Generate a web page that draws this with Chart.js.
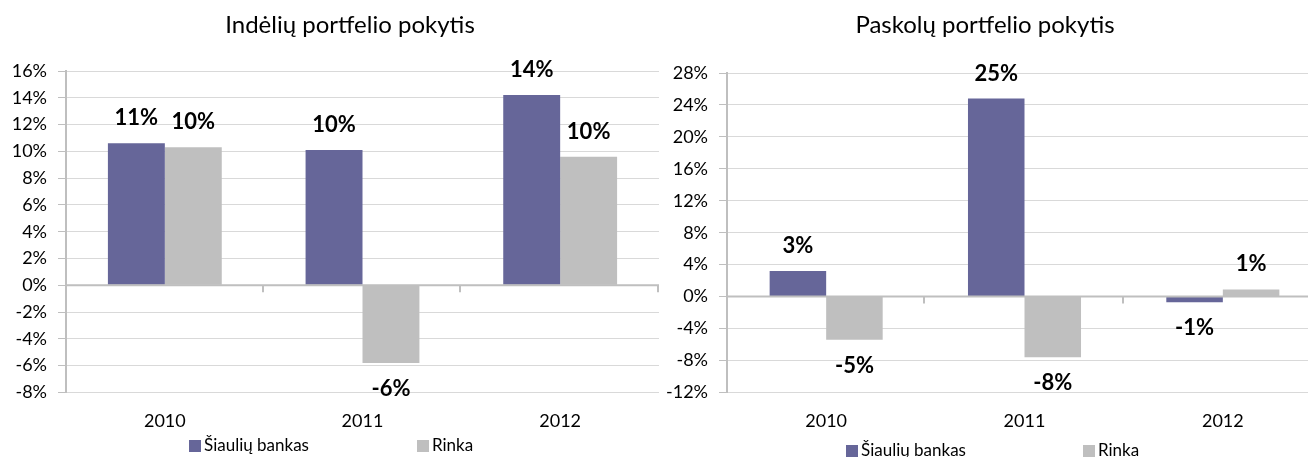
<!DOCTYPE html>
<html>
<head>
<meta charset="utf-8">
<script src="https://cdn.jsdelivr.net/npm/chart.js@4"></script>
<style>
  body { margin: 0; width: 1308px; height: 457px; overflow: hidden; background: #fff; position: relative; font-family: Lato, sans-serif; }
  #c1 { position: absolute; left: 0; top: 0; }
  #c2 { position: absolute; left: 655px; top: 0; }
  .leg { position: absolute; font-size: 17px; line-height: 20px; color: #000; white-space: nowrap; }
  .leg span { display: inline-block; width: 12px; height: 12px; margin-right: 3px; vertical-align: -1px; }
</style>
</head>
<body>
<canvas id="c1" width="662" height="457"></canvas>
<canvas id="c2" width="670" height="457"></canvas>
<div class="leg" style="left:189px; top:435px"><span style="background:#666699"></span>Šiaulių bankas</div>
<div class="leg" style="left:417px; top:435px"><span style="background:#bfbfbf"></span>Rinka</div>
<div class="leg" style="left:846px; top:440px"><span style="background:#666699"></span>Šiaulių bankas</div>
<div class="leg" style="left:1083px; top:440px"><span style="background:#bfbfbf"></span>Rinka</div>
<script>
// metai
const years = ["2010", "2011", "2012"];
const seriesNames = ["Šiaulių bankas", "Rinka"];

// indeliu portfelio pokytis (%)
const depositBank = [10.6, 10.1, 14.2];
const depositMarket = [10.3, -5.8, 9.6];

// paskolu portfelio pokytis (%)
const loanBank = [3.2, 24.8, -0.7];
const loanMarket = [-5.4, -7.6, 0.9];

const bankColor = "#666699";
const marketColor = "#bfbfbf";

// chart title, placed off-centre like the original
const chartTitle = {
  id: "chartTitle",
  afterDraw(chart, args, opts) {
    const ctx = chart.ctx;
    ctx.save();
    ctx.font = "24px Lato";
    ctx.fillStyle = "#000";
    ctx.textAlign = "center";
    ctx.textBaseline = "middle";
    ctx.fillText(opts.text, opts.x, 25);
    ctx.restore();
  }
};

// value labels above / below bars
const valueLabels = {
  id: "valueLabels",
  afterDatasetsDraw(chart) {
    const ctx = chart.ctx;
    ctx.save();
    ctx.font = "bold 22px Lato";
    ctx.fillStyle = "#000";
    ctx.textAlign = "center";
    ctx.textBaseline = "middle";
    chart.data.datasets.forEach((ds, i) => {
      chart.getDatasetMeta(i).data.forEach((bar, j) => {
        const v = ds.data[j];
        const y = v >= 0 ? bar.y - 25 : bar.y + 26;
        ctx.fillText(Math.round(v) + "%", bar.x, y);
      });
    });
    ctx.restore();
  }
};

// zero line tick marks between categories
const zeroTicks = {
  id: "zeroTicks",
  afterDatasetsDraw(chart) {
    const ctx = chart.ctx;
    const x = chart.scales.x;
    const y0 = chart.scales.y.getPixelForValue(0);
    const w = (x.right - x.left) / years.length;
    ctx.save();
    ctx.strokeStyle = "#bfbfbf";
    ctx.lineWidth = 2;
    ctx.beginPath();
    ctx.moveTo(x.left, y0);
    ctx.lineTo(x.right, y0);
    for (let i = 1; i <= years.length; i++) {
      const px = Math.round(x.left + i * w) - 1;
      ctx.moveTo(px, y0);
      ctx.lineTo(px, y0 + 7);
    }
    ctx.stroke();
    ctx.restore();
  }
};

function makeChart(id, title, titleX, bank, market, min, max, step, axisWidth, catPct, padTop) {
  return new Chart(document.getElementById(id), {
    type: "bar",
    data: {
      labels: years,
      datasets: [
        { label: seriesNames[0], data: bank, backgroundColor: bankColor },
        { label: seriesNames[1], data: market, backgroundColor: marketColor }
      ]
    },
    options: {
      responsive: false,
      animation: false,
      categoryPercentage: catPct,
      barPercentage: 1,
      layout: { padding: { top: padTop, right: 3, bottom: 15, left: 0 } },
      plugins: {
        legend: { display: false },
        tooltip: { enabled: false },
        title: { display: false },
        chartTitle: { text: title, x: titleX }
      },
      scales: {
        x: {
          grid: { display: false },
          border: { display: false },
          ticks: { color: "#000", font: { family: "Lato", size: 18 }, padding: 10 }
        },
        y: {
          min: min,
          max: max,
          afterFit(scale) { scale.width = axisWidth; },
          ticks: {
            stepSize: step,
            color: "#000",
            padding: 11,
            font: { family: "Lato", size: 18 },
            callback: v => v + "%"
          },
          grid: {
            color: "#d9d9d9",
            tickColor: "#bfbfbf",
            tickLength: 8,
            lineWidth: 1
          },
          border: { color: "#bfbfbf", width: 2 }
        }
      }
    },
    plugins: [zeroTicks, valueLabels, chartTitle]
  });
}

makeChart("c1", "Indėlių portfelio pokytis", 350, depositBank, depositMarket, -8, 16, 2, 66, 0.576, 71);
makeChart("c2", "Paskolų portfelio pokytis", 330, loanBank, loanMarket, -12, 28, 4, 72, 0.57, 73);
</script>
</body>
</html>
